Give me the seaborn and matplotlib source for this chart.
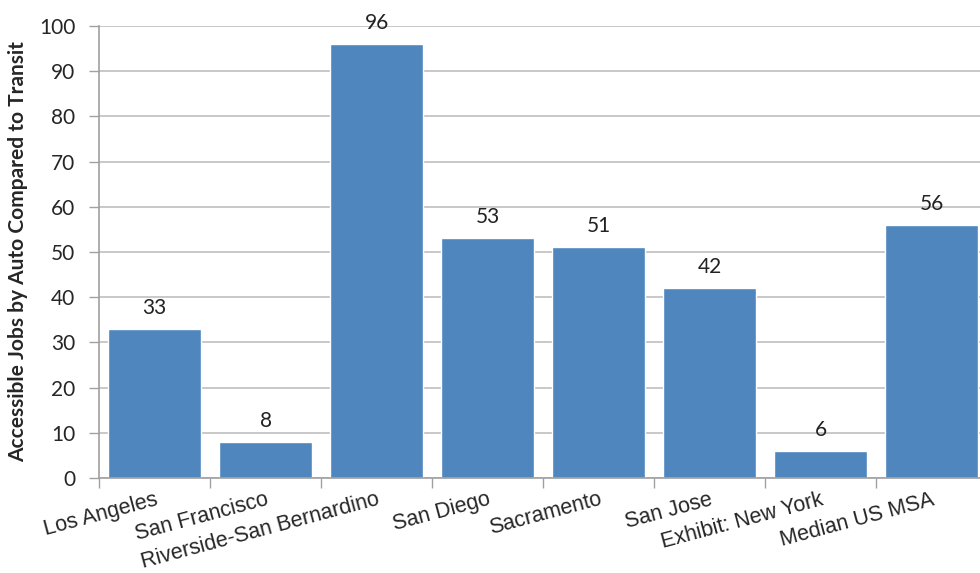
import matplotlib
matplotlib.use("Agg")
import matplotlib.pyplot as plt
import matplotlib.ticker as mticker
import seaborn as sns

cities = ['Los Angeles', 'San Francisco', 'Riverside-San Bernardino', 'San Diego',
          'Sacramento', 'San Jose', 'Exhibit: New York', 'Median US MSA']
jobs_ratio = [33, 8, 96, 53, 51, 42, 6, 56]
y_ticks = list(range(0, 101, 10))

sns.set_style('white')
plt.rcParams['font.family'] = ['Lato', 'DejaVu Sans']

fig = plt.figure(figsize=(9.8, 5.73), dpi=100)
ax = fig.add_axes([99 / 980, 95 / 573, 888 / 980, 452 / 573])

sns.barplot(x=cities, y=jobs_ratio, color='#4F86BE', saturation=1, width=0.83, ax=ax)
ax.bar_label(ax.containers[0], padding=8, fontsize=15, color='#222222')

ax.set_ylim(0, 100)
ax.set_xlim(-0.5, 7.5)
ax.set_yticks(y_ticks)
ax.tick_params(axis='y', labelsize=15, length=7, width=1, color='#a0a0a0', pad=10, left=True)
ax.yaxis.grid(True, color='#c4c4c4', linewidth=1.3)
ax.set_axisbelow(True)

# ticks at the category boundaries, labels at centres
ax.xaxis.set_minor_locator(mticker.FixedLocator([i - 0.5 for i in range(len(cities) + 1)]))
ax.tick_params(axis='x', which='minor', length=7, width=1, color='#a0a0a0', bottom=True)
ax.tick_params(axis='x', which='major', length=0, pad=8)
ax.set_xticks(range(len(cities)))
ax.set_xticklabels(cities, rotation=15, ha='right', va='top', rotation_mode='anchor',
                   fontsize=15.5, family=['Liberation Sans'])

for side in ['top', 'right']:
    ax.spines[side].set_visible(False)
for side in ['left', 'bottom']:
    ax.spines[side].set_color('#a0a0a0')
    ax.spines[side].set_linewidth(1.2)

ax.set_ylabel('Accessible Jobs by Auto Compared to Transit', fontsize=15,
              fontweight='bold', labelpad=8)

fig.savefig('out.png', dpi=100)
